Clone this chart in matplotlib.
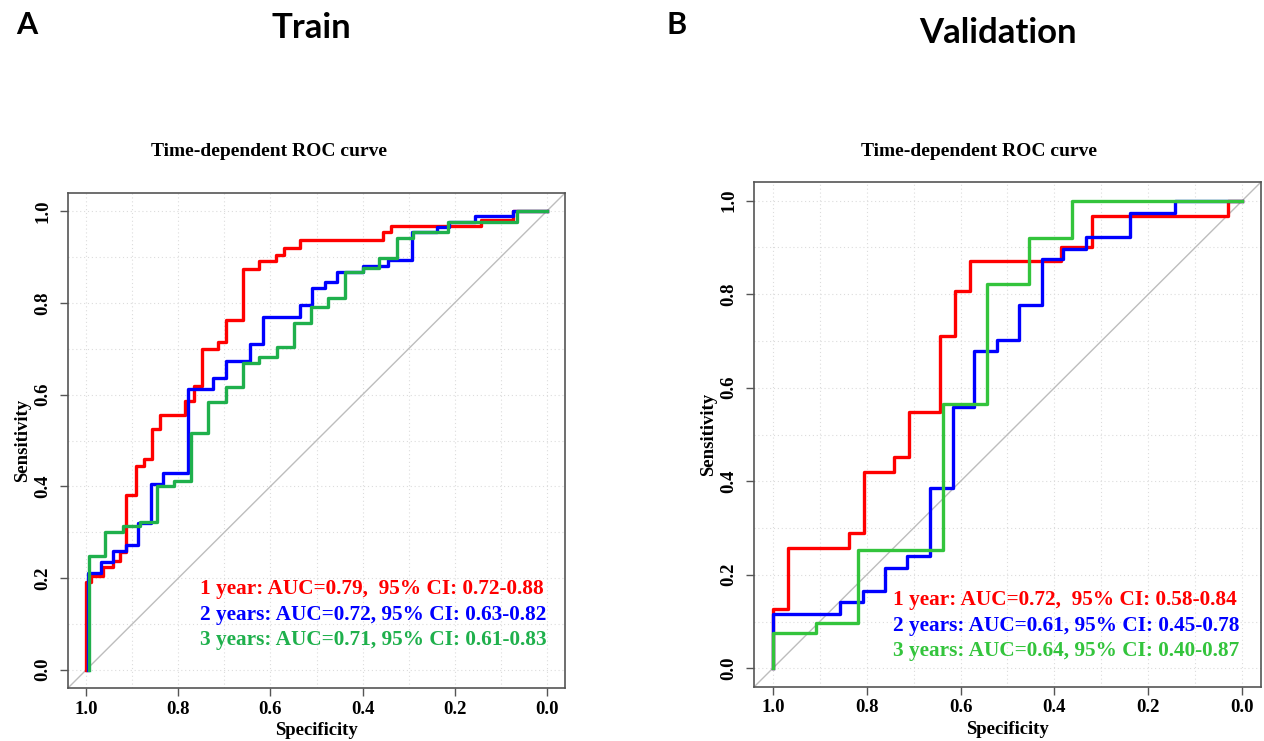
import numpy as np
import matplotlib
matplotlib.use('Agg')
from matplotlib import pyplot as plt

# Train set: step vertices (specificity, sensitivity), vertical move first
train_spec_1y = [1.0, 0.991, 0.965, 0.942, 0.927, 0.913, 0.892, 0.875, 0.858, 0.840, 0.785, 0.767, 0.749,
                 0.715, 0.697, 0.660, 0.624, 0.589, 0.571, 0.535, 0.356, 0.338, 0.142, 0.073, 0.0]
train_sens_1y = [0.0, 0.192, 0.205, 0.223, 0.238, 0.256, 0.381, 0.444, 0.460, 0.525, 0.556, 0.587, 0.620,
                 0.699, 0.714, 0.762, 0.874, 0.891, 0.905, 0.921, 0.938, 0.954, 0.969, 0.982, 1.0]
train_spec_2y = [0.996, 0.969, 0.942, 0.915, 0.887, 0.860, 0.834, 0.780, 0.725, 0.697, 0.644, 0.617, 0.535,
                 0.509, 0.481, 0.455, 0.400, 0.345, 0.292, 0.238, 0.211, 0.156, 0.074, 0.0]
train_sens_2y = [0.0, 0.210, 0.234, 0.258, 0.272, 0.320, 0.405, 0.429, 0.613, 0.637, 0.673, 0.710, 0.770,
                 0.795, 0.832, 0.845, 0.868, 0.880, 0.893, 0.954, 0.966, 0.977, 0.990, 1.0]
train_spec_3y = [0.995, 0.959, 0.921, 0.884, 0.846, 0.809, 0.772, 0.736, 0.697, 0.660, 0.624, 0.585, 0.549,
                 0.511, 0.475, 0.438, 0.400, 0.364, 0.326, 0.291, 0.215, 0.065, 0.0]
train_sens_3y = [0.0, 0.247, 0.300, 0.313, 0.322, 0.400, 0.411, 0.517, 0.584, 0.617, 0.670, 0.683, 0.703,
                 0.756, 0.791, 0.812, 0.867, 0.876, 0.898, 0.942, 0.954, 0.976, 1.0]

# Validation set
val_spec_1y = [1.0, 0.967, 0.837, 0.805, 0.741, 0.709, 0.644, 0.612, 0.580, 0.385, 0.321, 0.031, 0.0]
val_sens_1y = [0.0, 0.127, 0.258, 0.290, 0.419, 0.452, 0.548, 0.710, 0.806, 0.872, 0.902, 0.968, 1.0]
val_spec_2y = [1.0, 0.857, 0.808, 0.761, 0.715, 0.665, 0.617, 0.571, 0.523, 0.476, 0.427, 0.381, 0.333,
               0.239, 0.143, 0.0]
val_sens_2y = [0.0, 0.117, 0.142, 0.165, 0.215, 0.240, 0.386, 0.558, 0.679, 0.702, 0.777, 0.875, 0.896,
               0.923, 0.973, 1.0]
val_spec_3y = [1.0, 0.908, 0.818, 0.637, 0.544, 0.454, 0.363, 0.0]
val_sens_3y = [0.0, 0.076, 0.096, 0.253, 0.565, 0.821, 0.920, 1.0]

train_labels = ['1 year: AUC=0.79,  95% CI: 0.72-0.88',
                '2 years: AUC=0.72, 95% CI: 0.63-0.82',
                '3 years: AUC=0.71, 95% CI: 0.61-0.83']
val_labels = ['1 year: AUC=0.72,  95% CI: 0.58-0.84',
              '2 years: AUC=0.61, 95% CI: 0.45-0.78',
              '3 years: AUC=0.64, 95% CI: 0.40-0.87']

tick_vals = [1.0, 0.8, 0.6, 0.4, 0.2, 0.0]

W, H = 1264, 741
serif = 'Liberation Serif'


def px(x, y):
    # pixel position -> figure fraction
    return x / W, 1 - y / H


def roc_panel(ax, curves, labels, colors, text_x, text_y):
    ax.set_xlim(1.04, -0.04)
    ax.set_ylim(-0.04, 1.04)
    for g in np.arange(0, 1.01, 0.1):
        ax.axhline(g, color='#dcdcdc', lw=0.8, ls=(0, (1, 2.5)), zorder=0)
        ax.axvline(g, color='#dcdcdc', lw=0.8, ls=(0, (1, 2.5)), zorder=0)
    ax.plot([1.04, -0.04], [-0.04, 1.04], color='#bdbdbd', lw=1.0, zorder=1)
    for (s, t), c in zip(curves, colors):
        ax.plot(s, t, drawstyle='steps-pre', color=c, lw=2.4, zorder=2)
    for i, (lab, c) in enumerate(zip(labels, colors)):
        ax.text(text_x, text_y - i * 0.055, lab, color=c, fontsize=15.3, fontweight='bold',
                family=serif, va='center', ha='left')
    ax.set_xticks(tick_vals)
    ax.set_yticks(tick_vals[::-1])
    ax.set_xticklabels(['%.1f' % v for v in tick_vals], family=serif, fontweight='bold', fontsize=13.5)
    ax.set_yticklabels(['%.1f' % v for v in tick_vals[::-1]], family=serif, fontweight='bold',
                       fontsize=13.5, rotation=90, va='center')
    ax.tick_params(length=6, width=1.0, color='#555555', pad=3)
    ax.tick_params(axis='y', pad=6)
    for sp in ax.spines.values():
        sp.set_color('#555555')
        sp.set_linewidth(1.2)
    ax.set_xlabel('Specificity', family=serif, fontweight='bold', fontsize=13.5, labelpad=3)
    ax.set_ylabel('Sensitivity', family=serif, fontweight='bold', fontsize=13.5, labelpad=2)


fig = plt.figure(figsize=(W / 100, H / 100), dpi=100)

ax1 = fig.add_axes([68 / W, 53 / H, 497 / W, 495 / H])
roc_panel(ax1,
          [(train_spec_1y, train_sens_1y), (train_spec_2y, train_sens_2y), (train_spec_3y, train_sens_3y)],
          train_labels, ['#ff0000', '#0000ff', '#1fb04c'], 0.754, 0.175)

ax2 = fig.add_axes([754 / W, 54 / H, 507 / W, 505 / H])
roc_panel(ax2,
          [(val_spec_1y, val_sens_1y), (val_spec_2y, val_sens_2y), (val_spec_3y, val_sens_3y)],
          val_labels, ['#ff0000', '#0000ff', '#33c43c'], 0.743, 0.146)

# panel letters and headings
fig.text(*px(27, 25), 'A', family='Lato', fontweight='bold', fontsize=22, ha='center', va='center')
fig.text(*px(677, 25), 'B', family='Lato', fontweight='bold', fontsize=22, ha='center', va='center')
fig.text(*px(311, 28), 'Train', family='Lato', fontweight='bold', fontsize=25, ha='center', va='center')
fig.text(*px(998, 33), 'Validation', family='Lato', fontweight='bold', fontsize=25, ha='center', va='center')
fig.text(*px(269, 152), 'Time-dependent ROC curve', family=serif, fontweight='bold', fontsize=14,
         ha='center', va='center')
fig.text(*px(979, 152), 'Time-dependent ROC curve', family=serif, fontweight='bold', fontsize=14,
         ha='center', va='center')

fig.savefig('out.png', dpi=100)
